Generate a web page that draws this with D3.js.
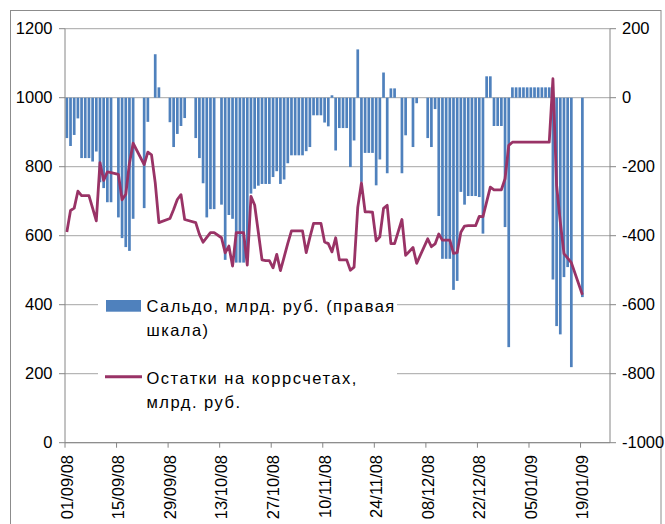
<!DOCTYPE html>
<html><head><meta charset="utf-8">
<script src="https://cdn.jsdelivr.net/npm/d3@7"></script>
<style>
body{margin:0;background:#fff;}
svg{display:block;font-family:"Liberation Sans",Arial,sans-serif;}
</style>
</head><body>
<svg id="chart" width="665" height="524"></svg>
<script>
// ---- DATA ----
const dates = [
 "01/09/08","02/09/08","03/09/08","04/09/08","05/09/08","06/09/08","07/09/08","08/09/08","09/09/08","10/09/08",
 "11/09/08","12/09/08","13/09/08","15/09/08","16/09/08","17/09/08","18/09/08","19/09/08","22/09/08","23/09/08",
 "24/09/08","25/09/08","26/09/08","29/09/08","30/09/08",
 "01/10/08","02/10/08","03/10/08","06/10/08","07/10/08","08/10/08","09/10/08","10/10/08","11/10/08","13/10/08",
 "14/10/08","15/10/08","16/10/08","17/10/08","18/10/08","19/10/08","20/10/08","21/10/08","22/10/08","23/10/08",
 "24/10/08","25/10/08","26/10/08","27/10/08","28/10/08","29/10/08","30/10/08","31/10/08",
 "01/11/08","02/11/08","03/11/08","04/11/08","05/11/08","06/11/08","07/11/08","08/11/08","09/11/08","10/11/08",
 "11/11/08","12/11/08","13/11/08","14/11/08","15/11/08","16/11/08","17/11/08","18/11/08","19/11/08","20/11/08",
 "21/11/08","22/11/08","23/11/08","24/11/08","25/11/08","26/11/08","27/11/08","28/11/08","29/11/08",
 "01/12/08","02/12/08","04/12/08","05/12/08","08/12/08","09/12/08","10/12/08","11/12/08","12/12/08","13/12/08",
 "14/12/08","15/12/08","16/12/08","17/12/08","18/12/08","19/12/08","20/12/08","21/12/08","22/12/08","23/12/08",
 "24/12/08","25/12/08","26/12/08","27/12/08","28/12/08","29/12/08","30/12/08","31/12/08",
 "01/01/09","02/01/09","03/01/09","04/01/09","05/01/09","06/01/09","07/01/09","08/01/09","09/01/09","10/01/09",
 "11/01/09","12/01/09","13/01/09","14/01/09","15/01/09","16/01/09","19/01/09"
];
// Сальдо, млрд. руб. (правая шкала)
const saldo = [
 -117,-140,-108,-60,-175,-175,-175,-185,-156,-245,
 -262,-303,-303,-347,-407,-433,-444,-351,-320,-70,
 null,126,30,-71,-143,
 -105,-82,-59,-117,-175,-248,-347,-323,-323,-310,
 -470,-340,-351,-478,-478,-478,-470,-278,-264,-255,
 -250,-250,-250,-230,-213,-250,-237,-190,
 -167,-167,-167,-167,-155,-143,-51,-51,-51,-72,
 -83,7,-153,-88,-88,-88,-201,-124,140,-244,
 -160,-160,-160,-254,-179,73,-219,27,27,
 -219,-109,-143,-16,-117,-143,-33,-343,-467,-467,
 -467,-557,-531,-273,-310,-285,-285,-285,-288,-394,
 62,62,-82,-82,-82,-375,-723,30,
 30,30,30,30,30,30,30,30,30,30,
 -527,-662,-686,-520,-491,-781,-578
];
// Остатки на коррсчетах, млрд. руб.
const balances = [
 611,673,680,729,716,716,716,680,643,812,
 760,785,783,778,704,720,810,868,806,842,
 834,754,638,650,676,
 705,719,647,638,604,581,595,609,609,594,
 550,570,512,609,609,609,515,714,689,610,
 530,528,528,507,546,499,538,578,
 614,614,614,614,551,595,636,636,636,582,
 577,553,594,530,530,530,500,509,682,753,
 669,669,668,585,597,679,688,577,577,
 647,543,566,520,591,568,576,605,587,587,
 587,549,551,610,628,629,629,629,656,655,
 698,741,733,733,733,765,862,871,
 871,871,871,871,871,871,871,871,871,871,
 1055,746,640,548,535,522,429
];
const xTickLabels = ["01/09/08","15/09/08","29/09/08","13/10/08","27/10/08","10/11/08","24/11/08","08/12/08","22/12/08","05/01/09","19/01/09"];
const leftTicks = [0,200,400,600,800,1000,1200];
const rightTicks = [-1000,-800,-600,-400,-200,0,200];
const legendSaldo = ["Сальдо, млрд. руб. (правая","шкала)"];
const legendBalances = ["Остатки на коррсчетах,","млрд. руб."];
const axisStart = "01/09/08", axisEnd = "27/01/09";

// ---- CHART ----
const parse = d3.utcParse("%d/%m/%y");
const svg = d3.select("#chart");
const L = 65, R = 610, T = 28.7, B = 442.7;
const x = d3.scaleUtc().domain([parse(axisStart), parse(axisEnd)]).range([L, R]);
const yL = d3.scaleLinear().domain([0, 1200]).range([B, T]);
const yR = d3.scaleLinear().domain([-1000, 200]).range([B, T]);
const dayW = x(d3.utcDay.offset(parse(axisStart), 1)) - x(parse(axisStart));
const cx = d => x(d) + dayW / 2;
const fs = "16.5px";

// outer chart border
svg.append("rect").attr("x", 10.5).attr("y", 10.5).attr("width", 650.5).attr("height", 600)
  .attr("fill", "none").attr("stroke", "#8c8c8c").attr("stroke-width", 1);

// gridlines
svg.append("g").selectAll("line").data(leftTicks).join("line")
  .attr("x1", L).attr("x2", R).attr("y1", d => yL(d)).attr("y2", d => yL(d))
  .attr("stroke", "#a6a6a6").attr("stroke-width", 1);

const rows = dates.map((d, i) => ({date: parse(d), s: saldo[i], b: balances[i]}));

// bars
const bw = 2.7;
svg.append("g").selectAll("rect").data(rows.filter(r => r.s !== null)).join("rect")
  .attr("x", r => cx(r.date) - bw / 2)
  .attr("width", bw)
  .attr("y", r => yR(Math.max(0, r.s)))
  .attr("height", r => Math.abs(yR(r.s) - yR(0)))
  .attr("fill", "#4f81bd");

// line
const line = d3.line().x(r => cx(r.date)).y(r => yL(r.b));
svg.append("path").datum(rows.filter(r => r.b !== null))
  .attr("d", line).attr("fill", "none").attr("stroke", "#993366")
  .attr("stroke-width", 2.8).attr("stroke-linejoin", "round");

// legend
const lg = svg.append("g");
lg.append("rect").attr("x", 98).attr("y", 288).attr("width", 299).attr("height", 132).attr("fill", "#fff");
lg.append("rect").attr("x", 106).attr("y", 300).attr("width", 35).attr("height", 11.7).attr("fill", "#4f81bd");
lg.append("line").attr("x1", 105).attr("x2", 142).attr("y1", 376.7).attr("y2", 376.7)
  .attr("stroke", "#993366").attr("stroke-width", 3);
lg.selectAll("text.s").data(legendSaldo).join("text").attr("class", "s")
  .attr("x", 146.5).attr("y", (d, i) => 311.5 + i * 24).text(d => d)
  .attr("font-size", fs).attr("letter-spacing", "1.45px").attr("fill", "#000");
lg.selectAll("text.b").data(legendBalances).join("text").attr("class", "b")
  .attr("x", 146.5).attr("y", (d, i) => 384 + i * 24).text(d => d)
  .attr("font-size", fs).attr("letter-spacing", "1.5px").attr("fill", "#000");

// axes lines
const ac = "#868686";
svg.append("line").attr("x1", L).attr("x2", L).attr("y1", T).attr("y2", B).attr("stroke", ac);
svg.append("line").attr("x1", R).attr("x2", R).attr("y1", T).attr("y2", B).attr("stroke", ac);
svg.append("line").attr("x1", L).attr("x2", R).attr("y1", B).attr("y2", B).attr("stroke", ac);

// left ticks & labels
const gl = svg.append("g");
gl.selectAll("line").data(leftTicks).join("line")
  .attr("x1", L - 6).attr("x2", L).attr("y1", d => yL(d)).attr("y2", d => yL(d)).attr("stroke", ac);
gl.selectAll("text").data(leftTicks).join("text")
  .attr("x", 52.5).attr("y", d => yL(d)).attr("dy", "0.35em").attr("text-anchor", "end")
  .attr("font-size", fs).attr("fill", "#000").text(d => d);

// right ticks & labels
const gr = svg.append("g");
gr.selectAll("line").data(rightTicks).join("line")
  .attr("x1", R).attr("x2", R + 6).attr("y1", d => yR(d)).attr("y2", d => yR(d)).attr("stroke", ac);
gr.selectAll("text").data(rightTicks).join("text")
  .attr("x", 622).attr("y", d => yR(d)).attr("dy", "0.35em").attr("text-anchor", "start")
  .attr("font-size", fs).attr("fill", "#000").text(d => d);

// x ticks & labels
const gx = svg.append("g");
gx.selectAll("line").data(xTickLabels).join("line")
  .attr("x1", d => x(parse(d))).attr("x2", d => x(parse(d)))
  .attr("y1", B).attr("y2", B + 5).attr("stroke", ac);
gx.selectAll("text").data(xTickLabels).join("text")
  .attr("transform", d => `translate(${x(parse(d)) + 2},455) rotate(-90)`)
  .attr("dy", "0.35em").attr("text-anchor", "end")
  .attr("font-size", fs).attr("fill", "#000").text(d => d);
</script>
</body></html>
